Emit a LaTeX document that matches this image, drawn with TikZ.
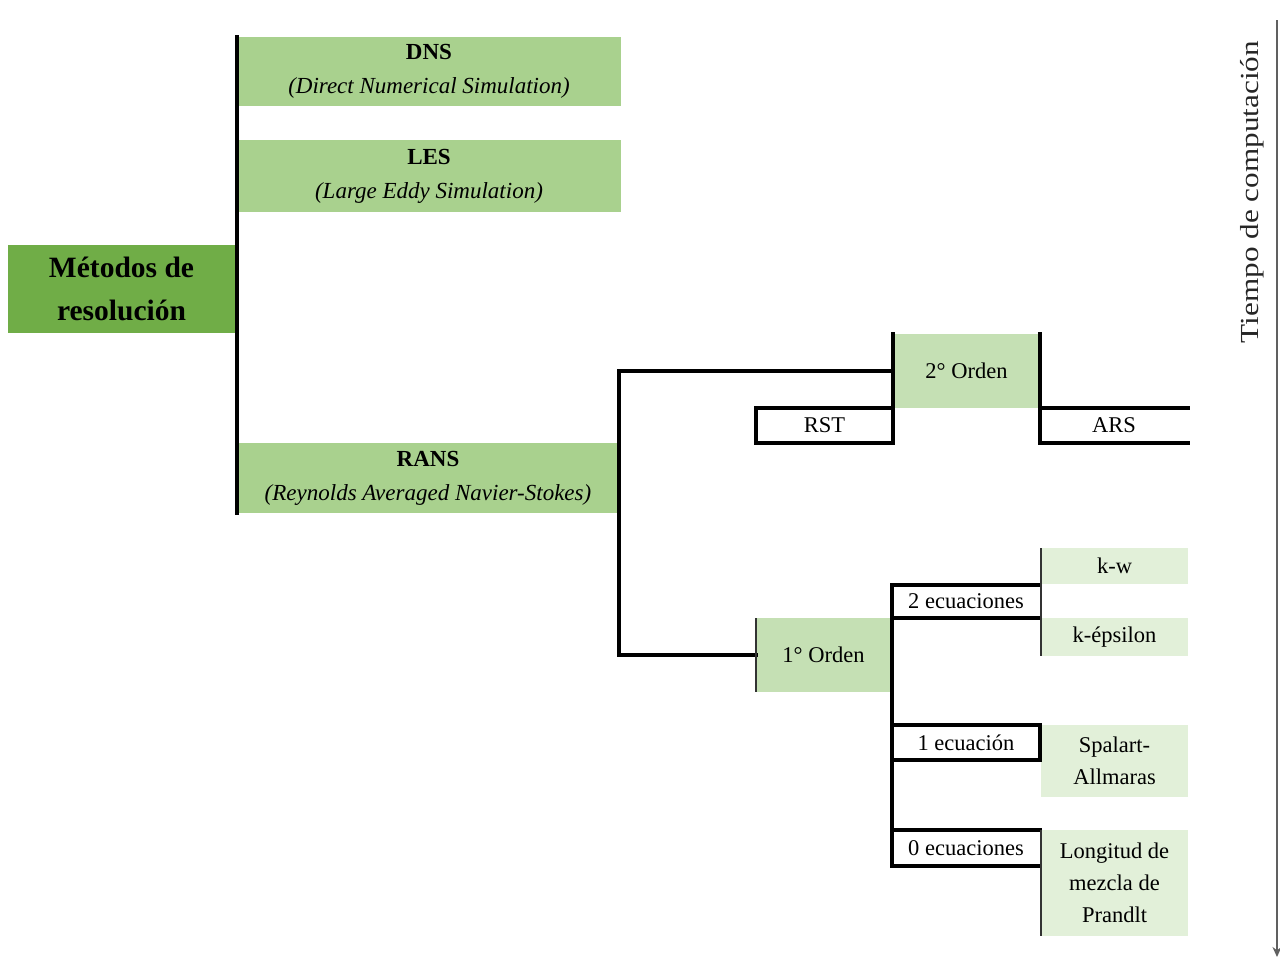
\documentclass[tikz,border=0pt]{standalone}
\usepackage{fontspec}
\setmainfont{Liberation Serif}
\usetikzlibrary{arrows.meta}
\definecolor{gdark}{HTML}{70AD47}
\definecolor{gmid}{HTML}{A9D18E}
\definecolor{glight}{HTML}{C5E0B4}
\definecolor{gpale}{HTML}{E2F0D9}
\definecolor{axisgray}{HTML}{606060}
\tikzset{
  box/.style={rectangle, inner sep=0pt, outer sep=0pt, align=center, text=black},
  bigtxt/.style={font=\fontsize{23}{34}\selectfont},
  smalltxt/.style={font=\fontsize{22.5}{32}\selectfont},
  wire/.style={draw=black, line width=3.2pt, line cap=rect},
  thinwire/.style={draw=black!80, line width=2pt},
}
\begin{document}
\begin{tikzpicture}[x=1pt,y=-1pt]
\useasboundingbox (0,0) rectangle (1280,959);
% main method boxes
\node[box, fill=gdark, minimum width=227pt, minimum height=88pt,
      font=\fontsize{29.5}{43}\selectfont\bfseries] (met) at (121.5,289) {Métodos de\\resolución};
\node[box, bigtxt, fill=gmid, minimum width=384pt, minimum height=69pt] (dns) at (429,71.5)
  {\textbf{DNS}\\\textit{(Direct Numerical Simulation)}};
\node[box, bigtxt, fill=gmid, minimum width=384pt, minimum height=72pt] (les) at (429,176)
  {\textbf{LES}\\\textit{(Large Eddy Simulation)}};
\node[box, bigtxt, fill=gmid, minimum width=382pt, minimum height=70pt] (rans) at (428,478)
  {\textbf{RANS}\\\textit{(Reynolds Averaged Navier-Stokes)}};
% second level
\node[box, smalltxt, fill=glight, minimum width=147pt, minimum height=74pt] (o2) at (966.5,371) {2° Orden};
\node[box, smalltxt, minimum width=137pt, minimum height=35pt] (rst) at (824.5,425.5) {RST};
\node[box, smalltxt, minimum width=148pt, minimum height=35pt] (ars) at (1114,425.5) {ARS};
\node[box, smalltxt, fill=glight, minimum width=135pt, minimum height=74pt] (o1) at (823.5,655) {1° Orden};
% first order branches
\node[box, smalltxt, minimum width=148pt, minimum height=33pt] (eq2) at (966,601.5) {2 ecuaciones};
\node[box, smalltxt, minimum width=148pt, minimum height=35pt] (eq1) at (966,742.5) {1 ecuación};
\node[box, smalltxt, minimum width=148pt, minimum height=36pt] (eq0) at (966,848) {0 ecuaciones};
\node[box, smalltxt, fill=gpale, minimum width=147pt, minimum height=36pt] (kw) at (1114.5,566) {k-w};
\node[box, smalltxt, fill=gpale, minimum width=147pt, minimum height=38pt] (keps) at (1114.5,637) {k-épsilon};
\node[box, smalltxt, fill=gpale, minimum width=147pt, minimum height=72pt] (sa) at (1114.5,761) {Spalart-\\Allmaras};
\node[box, smalltxt, fill=gpale, minimum width=147pt, minimum height=106pt] (long) at (1114.5,883) {Longitud de\\mezcla de\\Prandlt};
% connectors
\draw[wire] (dns.north west) -- (rans.south west);
\draw[wire] (o2.west) -- (o2.west -| rans.east) -- (o1.west -| rans.east) -- (o1.west);
\draw[wire] (o2.north west) -- (rst.south east);
\draw[wire] (o2.north east) -- (ars.south west);
\draw[wire] (rst.north east) -- (rst.north west) -- (rst.south west) -- (rst.south east);
\draw[wire] (ars.north east) -- (ars.north west) -- (ars.south west) -- (ars.south east);
\draw[thinwire] (o1.north west) -- (o1.south west);
\draw[wire] (eq2.north west) -- (eq0.south west);
\draw[wire] (eq2.north west) -- (eq2.north east);
\draw[wire] (eq2.south west) -- (eq2.south east);
\draw[thinwire] (kw.north west) -- (keps.south west);
\draw[wire] (eq1.north west) -- (eq1.north east) -- (eq1.south east);
\draw[wire] (eq1.south west) -- (eq1.south east);
\draw[wire] (eq0.north west) -- (eq0.north east);
\draw[wire] (eq0.south west) -- (eq0.south east);
\draw[thinwire] (long.north west) -- (long.south west);
% time axis
\coordinate (tstart) at (1277,20);
\coordinate (tend) at (1277,957);
\draw[draw=axisgray, line width=1.8pt, -{Stealth[length=10pt,width=9pt]}] (tstart) -- (tend);
\node[box, rotate=90, font=\fontsize{26}{28}\selectfont, text=black!85] (tiempo) at (1252,192)
  {\scalebox{1.2}[1]{Tiempo de computación}};
\end{tikzpicture}
\end{document}
